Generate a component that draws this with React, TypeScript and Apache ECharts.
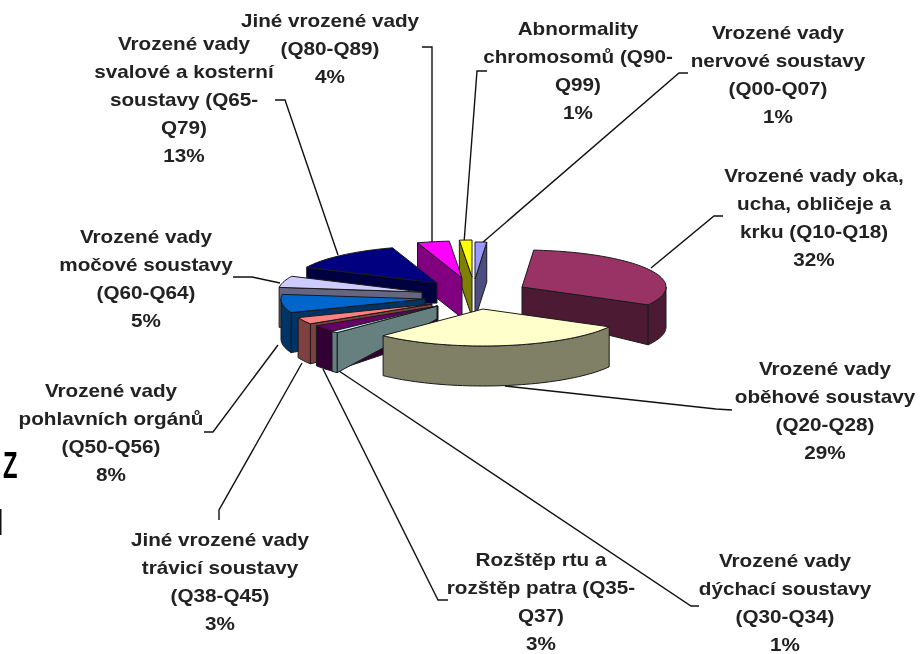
import React, { useEffect, useRef } from "react";
import * as echarts from "echarts";

// ---- data ----
const labels: string[][] = [
  ["Vrozené vady", "nervové soustavy", "(Q00-Q07)"],
  ["Vrozené vady oka,", "ucha, obličeje a", "krku (Q10-Q18)"],
  ["Vrozené vady", "oběhové soustavy", "(Q20-Q28)"],
  ["Vrozené vady", "dýchací soustavy", "(Q30-Q34)"],
  ["Rozštěp rtu a", "rozštěp patra (Q35-", "Q37)"],
  ["Jiné vrozené vady", "trávicí soustavy", "(Q38-Q45)"],
  ["Vrozené vady", "pohlavních orgánů", "(Q50-Q56)"],
  ["Vrozené vady", "močové soustavy", "(Q60-Q64)"],
  ["Vrozené vady", "svalové a kosterní", "soustavy (Q65-", "Q79)"],
  ["Jiné vrozené vady", "(Q80-Q89)"],
  ["Abnormality", "chromosomů (Q90-", "Q99)"],
];
const values = [1.3, 31.7, 29.2, 0.8, 3, 3, 8, 5, 13, 3.6, 1.4];
const colors = ["#9999FF", "#993366", "#FFFFCC", "#CCFFFF", "#660066", "#FF8080", "#0066CC", "#CCCCFF", "#000080", "#FF00FF", "#FFFF00"];

// ---- layout ----
const drawOrder = [1, 0, 10, 9, 8, 7, 6, 5, 4, 3, 2];
const radiusX = 144;
const radiusY = 37;
const rimDepth = 40;
const apexes = [[475, 279], [522, 287], [483, 309], [437, 306], [438, 306], [432, 304], [425, 299], [422, 292], [437, 283], [462, 278], [472, 277]];
const apexDepths = [40, 27, 40, 13, 30, 30, 30, 30, 20, 40, 40];
const labelAnchors = [[778, 18], [814, 161], [825, 354], [785, 546], [541, 545], [220, 525], [111, 376], [146, 222], [184, 29], [330, 6], [578, 14]];
const leaders = [
  [[688, 73], [679, 73], [482, 243]],
  [[723, 216], [714, 216], [651, 268]],
  [[732, 410], [716, 409], [505, 386]],
  [[699, 606], [691, 606], [339, 371]],
  [[448, 600], [438, 600], [323, 369]],
  [[219, 520], [219, 510], [302, 363]],
  [[204, 432], [213, 432], [278, 345]],
  [[233, 277], [252, 277], [280, 283]],
  [[275, 100], [285, 100], [338, 255]],
  [[422, 47], [432, 47], [432, 243]],
  [[487, 71], [477, 71], [464, 243]],
];

const rad = (d: number) => (d * Math.PI) / 180;
const dark = (hex: string) => {
  const n = parseInt(hex.slice(1), 16);
  const f = (v: number) => Math.round(v / 2);
  return `rgb(${f(n >> 16)},${f((n >> 8) & 255)},${f(n & 255)})`;
};

const starts: number[] = [];
values.reduce((acc, v, i) => {
  starts[i] = acc;
  return acc + v;
}, 0);

function renderSlice(_: any, api: any) {
  const i = api.value(0);
  const a0 = (starts[i] / 100) * 360;
  const a1 = ((starts[i] + values[i]) / 100) * 360;
  const [ax, ay] = apexes[i];
  const pt = (a: number, drop = 0) => [ax + radiusX * Math.sin(rad(a)), ay - radiusY * Math.cos(rad(a)) + drop];
  const line = { stroke: "#1a1a1a", lineWidth: 1, lineJoin: "round" };
  const children: any[] = [];
  const wall = dark(colors[i]);
  const arcPts = (from: number, to: number, drop = 0) => {
    const out: number[][] = [];
    const n = Math.max(2, Math.ceil((to - from) / 2));
    for (let k = 0; k <= n; k++) out.push(pt(from + ((to - from) * k) / n, drop));
    return out;
  };
  const radial = (a: number) => ({
    type: "polygon",
    shape: { points: [pt(a), [ax, ay], [ax, ay + apexDepths[i]], pt(a, rimDepth)] },
    style: { fill: wall, ...line },
  });
  if (Math.sin(rad(a0)) < -0.001) children.push(radial(a0));
  if (Math.sin(rad(a1)) > 0.001) children.push(radial(a1));
  const from = Math.max(a0, 90);
  const to = Math.min(a1, 270);
  if (to > from) {
    children.push({
      type: "polygon",
      shape: { points: [...arcPts(from, to), ...arcPts(from, to, rimDepth).reverse()] },
      style: { fill: wall, ...line },
    });
  }
  children.push({
    type: "polygon",
    shape: { points: [[ax, ay], ...arcPts(a0, a1)] },
    style: { fill: colors[i], ...line },
  });
  return { type: "group", children };
}

export default function App() {
  const ref = useRef<HTMLDivElement>(null);
  useEffect(() => {
    const chart = echarts.init(ref.current!, null, { renderer: "svg" });
    const textFont = { fontFamily: "Liberation Sans", fontWeight: "bold", fontSize: 18, fill: "#222", lineHeight: 28.1 };
    chart.setOption({
      animation: false,
      backgroundColor: "#fff",
      series: [
        {
          type: "custom",
          coordinateSystem: "none",
          renderItem: renderSlice,
          data: drawOrder.map((i) => [i]),
          z: 2,
        },
      ],
      graphic: [
        ...leaders.map((points) => ({
          type: "polyline",
          z: 1,
          shape: { points },
          style: { stroke: "#111", lineWidth: 1.4, fill: "none" },
        })),
        ...labels.map((lines, i) => ({
          type: "text",
          z: 3,
          x: labelAnchors[i][0],
          y: labelAnchors[i][1],
          scaleX: 1.15,
          style: {
            text: [...lines, `${Math.round(values[i])}%`].join("\n"),
            textAlign: "center",
            textVerticalAlign: "top",
            ...textFont,
          },
        })),
        {
          type: "text",
          z: 3,
          x: 3,
          y: 447,
          scaleX: 0.66,
          style: { text: "Z", fontFamily: "Liberation Sans", fontWeight: "bold", fontSize: 36, fill: "#000", textVerticalAlign: "top" },
        },
        { type: "rect", z: 3, shape: { x: 0, y: 509, width: 1.5, height: 26 }, style: { fill: "#111" } },
      ],
    });
    return () => chart.dispose();
  }, []);
  return <div ref={ref} style={{ position: "fixed", left: 0, top: 0, width: 924, height: 654, filter: "blur(0.5px)" }} />;
}
